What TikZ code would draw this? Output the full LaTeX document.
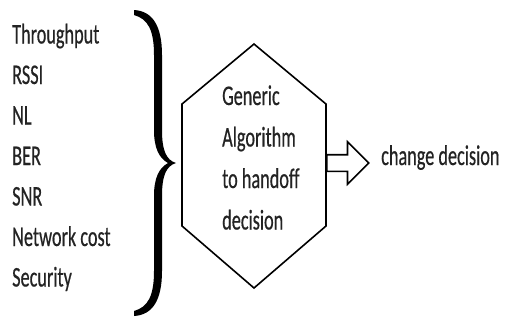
\documentclass[tikz,border=0pt]{standalone}
\usepackage{fontspec}
\setmainfont{Carlito}[FakeStretch=0.64, FakeBold=0.5]
\usetikzlibrary{shapes.arrows}

\definecolor{txtgray}{RGB}{35,35,35}
\tikzset{
	lbl/.style={anchor=base west, inner sep=0pt, text=txtgray, font=\fontsize{28.5}{30}\selectfont},
	blockarrow/.style={single arrow, draw, line width=1.6pt, inner xsep=0pt, inner ysep=7.5pt, single arrow head extend=13pt, minimum height=42pt},
}

\begin{document}
\begin{tikzpicture}[x=1pt, y=-1pt]
		\useasboundingbox (0,0) rectangle (506,322);
		% input parameters
		\node[lbl] (thr) at (12,43.5) {Throughput};
		\node[lbl] (rssi) at (12,84) {RSSI};
		\node[lbl] (nl) at (12,124.5) {NL};
		\node[lbl] (ber) at (12,165) {BER};
		\node[lbl] (snr) at (12,205.5) {SNR};
		\node[lbl] (cost) at (12,246) {Network cost};
		\node[lbl] (sec) at (12,286.5) {Security};
		% brace
		\fill (134,10) .. controls (152,11) and (162,25) .. (162,55) -- (162,130)
			.. controls (162,150) and (166,160) .. (176,163)
			.. controls (166,166) and (162,176) .. (162,196) -- (162,271)
			.. controls (162,301) and (152,315) .. (134,316)
			-- (134,311) .. controls (148,307) and (154,296) .. (154,271) -- (154,196)
			.. controls (154,178) and (159,168) .. (168,163)
			.. controls (159,158) and (154,148) .. (154,130) -- (154,55)
			.. controls (154,30) and (148,19) .. (134,15) -- cycle;
		% hexagon
		\draw[line width=1.6pt] (254,44) -- (326,104) -- (326,226) -- (254,288) -- (182,226) -- (182,104) -- cycle;
		\coordinate (hexR) at (326,163);
		\node[lbl] (gen1) at (222,105) {Generic};
		\node[lbl] (gen2) at (222,146.5) {Algorithm};
		\node[lbl] (gen3) at (222,188) {to handoff};
		\node[lbl] (gen4) at (222,229.5) {decision};
		% output
		\node[blockarrow, anchor=tail] (arr) at (hexR) {};
		\node[lbl] (out) at (381,165) {change decision};
	\end{tikzpicture}
\end{document}
